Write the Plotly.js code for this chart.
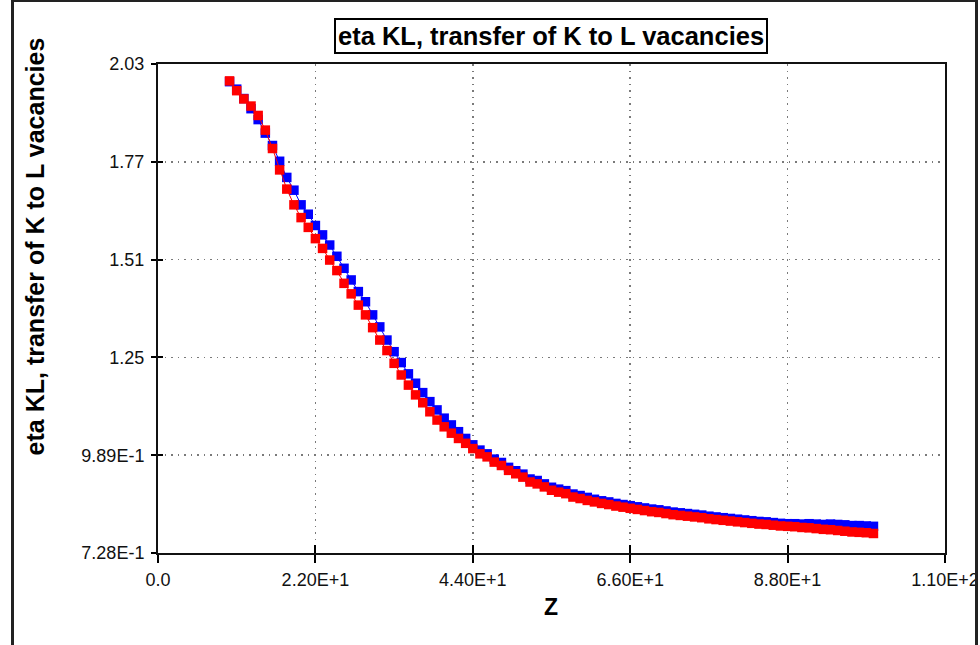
<!DOCTYPE html>
<html>
<head>
<meta charset="utf-8">
<script src="https://cdn.plot.ly/plotly-3.0.1.min.js"></script>
<style>
  html, body { margin: 0; padding: 0; background: #fff; }
  #wrap { position: relative; width: 980px; height: 645px; overflow: hidden; }
  #chart { position: absolute; left: 0; top: 0; width: 980px; height: 645px; }
  #frame {
    position: absolute; left: 11px; top: 0px; width: 961px; height: 660px;
    border-left: 3px solid #222; border-top: 2px solid #222; border-right: 3px solid #222;
    pointer-events: none;
  }
  #edge { position: absolute; left: 975px; top: 0; width: 5px; height: 645px; background: #fff; }
</style>
</head>
<body>
<div id="wrap">
  <div id="chart"></div>
  <div id="edge"></div>
  <div id="frame"></div>
</div>
<script>
// Atomic number Z = 10 .. 100
const zValues = [];
for (let z = 10; z <= 100; z++) zValues.push(z);

// eta KL, first data set (blue)
const etaBlue = [
  1.983, 1.963, 1.938, 1.911, 1.882, 1.846, 1.813, 1.771, 1.728, 1.694,
  1.655, 1.630, 1.600, 1.575, 1.548, 1.518, 1.486, 1.455, 1.424, 1.397,
  1.362, 1.330, 1.295, 1.264, 1.235, 1.205, 1.180, 1.155, 1.131, 1.109,
  1.087, 1.069, 1.051, 1.033, 1.016, 1.002, 0.992, 0.978, 0.969, 0.956,
  0.947, 0.938, 0.925, 0.921, 0.912, 0.903, 0.898, 0.894, 0.885, 0.881,
  0.876, 0.871, 0.867, 0.864, 0.860, 0.857, 0.854, 0.851, 0.848, 0.845,
  0.843, 0.840, 0.837, 0.835, 0.833, 0.831, 0.829, 0.826, 0.824, 0.822,
  0.820, 0.818, 0.816, 0.814, 0.812, 0.811, 0.809, 0.807, 0.806, 0.806,
  0.805, 0.806, 0.805, 0.804, 0.805, 0.804, 0.803, 0.801, 0.801, 0.800,
  0.799
];

// eta KL, second data set (red)
const etaRed = [
  1.985, 1.959, 1.937, 1.918, 1.893, 1.854, 1.805, 1.748, 1.697, 1.655,
  1.621, 1.595, 1.565, 1.539, 1.508, 1.480, 1.446, 1.418, 1.388, 1.362,
  1.328, 1.295, 1.267, 1.233, 1.202, 1.175, 1.149, 1.128, 1.104, 1.082,
  1.064, 1.047, 1.033, 1.020, 1.006, 0.992, 0.984, 0.970, 0.961, 0.948,
  0.939, 0.930, 0.917, 0.912, 0.904, 0.895, 0.890, 0.886, 0.877, 0.873,
  0.868, 0.864, 0.860, 0.857, 0.853, 0.850, 0.847, 0.844, 0.841, 0.838,
  0.836, 0.833, 0.830, 0.828, 0.826, 0.824, 0.822, 0.819, 0.817, 0.815,
  0.813, 0.811, 0.809, 0.807, 0.805, 0.804, 0.802, 0.800, 0.799, 0.798,
  0.796, 0.795, 0.793, 0.791, 0.790, 0.788, 0.786, 0.784, 0.783, 0.782,
  0.780
];

// Axis ticks
const xTickVals = [0, 22, 44, 66, 88, 110];
const xTickText = ['0.0', '2.20E+1', '4.40E+1', '6.60E+1', '8.80E+1', '1.10E+2'];
const yTickVals = [0.728, 0.9884, 1.2488, 1.5092, 1.7696, 2.03];
const yTickText = ['7.28E-1', '9.89E-1', '1.25', '1.51', '1.77', '2.03'];

const chartTitle = 'eta KL, transfer of K to L vacancies';
const xTitle = 'Z';
const yTitle = 'eta KL, transfer of K to L vacancies';

const xRange = [0, 110];
const yRange = [0.728, 2.03];

const traces = [
  {
    x: zValues, y: etaBlue, type: 'scatter', mode: 'lines+markers',
    line: { color: '#0000ff', width: 1 },
    marker: { symbol: 'square', size: 9.5, color: '#0000ff' },
    cliponaxis: false, hoverinfo: 'x+y'
  },
  {
    x: zValues, y: etaRed, type: 'scatter', mode: 'lines+markers',
    line: { color: '#ff0000', width: 1 },
    marker: { symbol: 'square', size: 9.5, color: '#ff0000' },
    cliponaxis: false, hoverinfo: 'x+y'
  }
];

const fam = 'Liberation Sans, Arial, sans-serif';
const tickFont = { family: fam, size: 18, color: '#111' };

const layout = {
  width: 980, height: 645,
  margin: { l: 158, r: 35, t: 64, b: 92 },
  paper_bgcolor: '#fff', plot_bgcolor: '#fff',
  showlegend: false,
  xaxis: {
    range: xRange, tickmode: 'array', tickvals: xTickVals, ticktext: xTickText,
    ticks: 'outside', ticklen: 8, tickwidth: 2, tickcolor: '#000',
    showline: true, linecolor: '#111', linewidth: 2, mirror: true,
    showgrid: true, gridcolor: '#7a7a7a', gridwidth: 1.5, griddash: '1.5px,5px',
    zeroline: false, tickfont: tickFont, ticklabelstandoff: 1
  },
  xaxis2: {
    overlaying: 'x', matches: 'x', range: xRange, tickmode: 'array', tickvals: xTickVals,
    ticks: 'inside', ticklen: 8, tickwidth: 2, tickcolor: '#000',
    showticklabels: false, showgrid: false, zeroline: false, showline: false
  },
  yaxis: {
    range: yRange, tickmode: 'array', tickvals: yTickVals, ticktext: yTickText,
    ticks: 'outside', ticklen: 5, tickwidth: 2, tickcolor: '#000',
    showline: true, linecolor: '#111', linewidth: 2, mirror: true,
    showgrid: true, gridcolor: '#7a7a7a', gridwidth: 1.5, griddash: '1.5px,5px',
    zeroline: false, tickfont: tickFont, ticklabelstandoff: 3
  },
  yaxis2: {
    overlaying: 'y', matches: 'y', range: yRange, tickmode: 'array', tickvals: yTickVals,
    ticks: 'inside', ticklen: 5, tickwidth: 2, tickcolor: '#000',
    showticklabels: false, showgrid: false, zeroline: false, showline: false
  },
  annotations: [
    {
      text: chartTitle, xref: 'paper', yref: 'paper', x: 0.4994, y: 1.0573,
      xanchor: 'center', yanchor: 'middle', showarrow: false,
      font: { family: fam, size: 25.5, color: '#000', weight: 'bold' },
      bordercolor: '#000', borderwidth: 2, borderpad: 2, bgcolor: '#fff'
    },
    {
      text: xTitle, xref: 'paper', yref: 'paper', x: 0.4994, y: -0.110,
      xanchor: 'center', yanchor: 'middle', showarrow: false,
      font: { family: fam, size: 23, color: '#000', weight: 'bold' }
    },
    {
      text: yTitle, xref: 'paper', yref: 'paper', x: -0.1563, y: 0.627,
      xanchor: 'center', yanchor: 'middle', showarrow: false, textangle: -90,
      font: { family: fam, size: 25, color: '#000', weight: 'bold' }
    }
  ]
};

// invisible trace carrying the inner halves of the crossing tick marks
traces.push({ x: [null], y: [null], xaxis: 'x2', yaxis: 'y2', type: 'scatter', mode: 'markers', hoverinfo: 'skip', showlegend: false });

Plotly.newPlot('chart', traces, layout, { displayModeBar: false, staticPlot: true });
</script>
</body>
</html>
